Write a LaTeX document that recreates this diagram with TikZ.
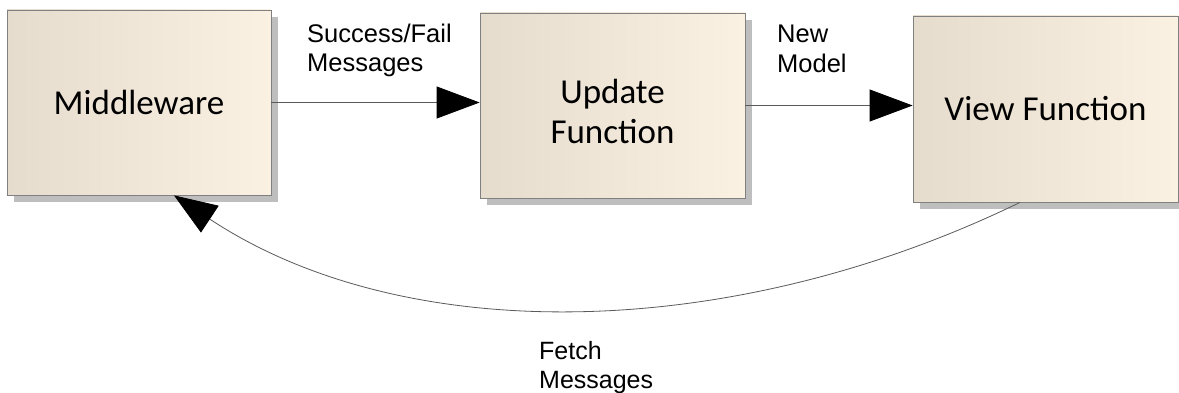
\documentclass[tikz,border=0pt]{standalone}
\usepackage{fontspec}
\setmainfont{Liberation Sans}
\newfontfamily\boxfont{Carlito}
\newfontfamily\lblfont{Liberation Sans}
\usetikzlibrary{arrows.meta,shadows,positioning}
\definecolor{boxleft}{RGB}{229,220,206}
\definecolor{boxright}{RGB}{251,241,227}
\definecolor{boxedge}{RGB}{128,128,128}
\definecolor{shade}{RGB}{190,190,190}
\definecolor{wire}{RGB}{90,90,90}
\tikzset{
  block/.style={draw=boxedge, line width=0.8pt, left color=boxleft, right color=boxright,
    minimum width=265pt, minimum height=185pt, inner sep=0pt, align=center,
    font=\boxfont\fontsize{35}{40}\selectfont,
    drop shadow={shadow xshift=7pt, shadow yshift=-7pt, fill=shade, opacity=1}},
  boxtext/.style={inner sep=0pt, align=center, font=\boxfont\fontsize{35}{40}\selectfont},
  flow/.style={draw=wire, line width=0.8pt,
    -{Triangle[length=43pt,width=32pt,color=black]}},
  lbl/.style={inner sep=0pt, align=left, anchor=north west,
    font=\lblfont\fontsize{25.5}{28.5}\selectfont}
}
\begin{document}
\begin{tikzpicture}[x=1pt,y=-1pt]
  \fill[white] (0,0) rectangle (1179,393);
  \useasboundingbox (0,0) rectangle (1179,393);

  % the three stages
  \node[block, minimum width=264pt] (mw) at (139,102.5) {Middleware};
  \node[block, label={[boxtext, yshift=-6pt]center:{Update\\Function}}] (up) at (612.5,105.5) {};
  \node[block, minimum height=186pt] (vw) at (1045.5,109) {View Function};

  % forward flow
  \draw[flow] (mw.east) -- (mw.east -| up.west);
  \draw[flow] (up.east) -- (up.east -| vw.west);

  % feedback from the view back to the middleware
  \draw[flow] ([xshift=-25.5pt]vw.south)
     .. controls +(-288,140) and +(231,153) .. ([xshift=35pt]mw.south);

  % connector labels
  \node[lbl] (lsf) at (307,24) {Success/Fail\\Messages};
  \node[lbl, font=\lblfont\fontsize{25.5}{30}\selectfont] (lnm) at (777,25) {New\\Model};
  \node[lbl, font=\lblfont\fontsize{25}{29}\selectfont] (lfm) at (539,341) {Fetch\\Messages};
\end{tikzpicture}
\end{document}
